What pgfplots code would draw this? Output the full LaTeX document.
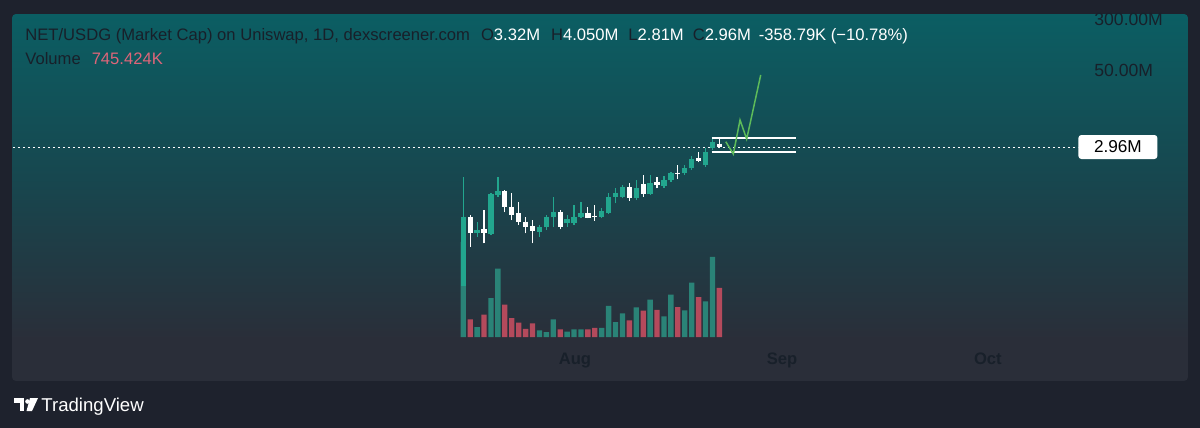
\documentclass[border=0pt]{standalone}
\usepackage{pgfplots}
\pgfplotsset{compat=1.18}
\usepackage{fontspec}
\setmainfont{Liberation Sans}
\definecolor{outerbg}{HTML}{1E222D}
\definecolor{paneltop}{HTML}{0B5E63}
\definecolor{panelmid}{HTML}{17474F}
\definecolor{panelbot}{HTML}{2A2E39}
\definecolor{candleup}{HTML}{22A68E}
\definecolor{volup}{HTML}{2A8377}
\definecolor{voldown}{HTML}{B44A5C}
\definecolor{labeltxt}{HTML}{18202A}
\definecolor{volval}{HTML}{DE6579}
\definecolor{drawgreen}{HTML}{5DBB5A}
\newcommand\fs[1]{\fontsize{#1}{#1}\selectfont}
\begin{document}
\begin{tikzpicture}
\begin{scope}[x=0.5pt,y=-0.5pt]
\fill[outerbg] (0,0) rectangle (1200,428);
\begin{scope}
\clip[rounded corners=2pt] (12,14) rectangle (1188,381);
\fill[panelbot] (12,14) rectangle (1188,381);
\shade[top color=paneltop, bottom color=panelbot, middle color=panelmid] (12,14) rectangle (1188,340);
\end{scope}
\end{scope}

% volume axis
\begin{axis}[at={(6.5pt,-168.5pt)}, anchor=south west, scale only axis,
  width=532.5pt, height=161pt, xmin=-65.07, xmax=88.83, ymin=0, ymax=4897.6,
  hide axis]
\addplot[ybar, bar width=0.77, bar shift=0pt, fill=volup, draw=none] coordinates {
(0,1445) (2,152) (4,593) (5,1039) (11,102) (12,76) (13,269) (15,81) (16,117) (17,117)
(20,137) (21,472) (22,228) (23,360) (25,452) (27,567) (29,315) (30,643) (32,406) (33,826)
(35,543) (36,1217)};
\addplot[ybar, bar width=0.77, bar shift=0pt, fill=voldown, draw=none] coordinates {
(1,269) (3,339) (6,491) (7,289) (8,218) (9,122) (10,208) (14,117) (18,117) (19,137)
(24,254) (26,400) (28,411) (31,456) (34,608) (37,745.424)};
\end{axis}

% price axis
\begin{axis}[at={(6.5pt,-7.5pt)}, anchor=north west, scale only axis,
  width=532.5pt, height=162.5pt, xmin=-65.07, xmax=88.83,
  ymode=log, ymin=0.003348, ymax=306.5,
  axis line style={draw=none}, tick style={draw=none},
  major tick length=0pt, minor tick length=0pt,
  ytick={50,300}, yticklabels={50.00M,300.00M}, yticklabel pos=right,
  yticklabel style={anchor=west, inner sep=0pt, xshift=8pt, yshift=-1.7pt, text=labeltxt, font=\fs{8.8}},
  xtick={16.14,46.06,75.8}, xticklabels={Aug,Sep,Oct},
  xticklabel style={anchor=base, inner sep=0pt, yshift=-12pt, text=labeltxt, font=\fs{8.3}\bfseries},
  clip=false, unbounded coords=jump]
% last price line
\addplot[white, line width=0.5pt, dash pattern=on 1pt off 1.5pt] coordinates {(-65.07,2.96) (88.83,2.96)};
% wicks
\addplot[candleup, line width=0.6pt] coordinates {
(0,0.02234) (0,1.042) (0,nan)
(2,0.1264) (2,0.2142) (2,nan)
(4,0.1342) (4,0.5937) (4,nan)
(5,0.5158) (5,1.020) (5,nan)
(11,0.1264) (11,0.1908) (11,nan)
(12,0.1600) (12,0.2711) (12,nan)
(13,0.1797) (13,0.5158) (13,nan)
(15,0.1797) (15,0.2711) (15,nan)
(16,0.1908) (16,0.3853) (16,nan)
(17,0.2414) (17,0.4327) (17,nan)
(20,0.2414) (20,0.3431) (20,nan)
(21,0.2808) (21,0.5812) (21,nan)
(22,0.4090) (22,0.6932) (22,nan)
(23,0.4876) (23,0.7784) (23,nan)
(25,0.4592) (25,0.9277) (25,nan)
(27,0.5477) (27,1.106) (27,nan)
(29,0.7006) (29,1.068) (29,nan)
(30,0.8649) (30,1.242) (30,nan)
(32,1.106) (32,1.572) (32,nan)
(33,1.319) (33,2.157) (33,nan)
(35,1.481) (35,2.828) (35,nan)
(36,2.664) (36,4.252)};
\addplot[white, line width=0.6pt] coordinates {
(1,0.0890) (1,0.2711) (1,nan)
(3,0.1003) (3,0.3232) (3,nan)
(6,0.2981) (6,0.6528) (6,nan)
(7,0.2274) (7,0.5937) (7,nan)
(8,0.1908) (8,0.4236) (8,nan)
(9,0.1425) (9,0.2554) (9,nan)
(10,0.1003) (10,0.2274) (10,nan)
(14,0.1640) (14,0.3232) (14,nan)
(18,0.2414) (18,0.3630) (18,nan)
(19,0.2219) (19,0.3853) (19,nan)
(24,0.4481) (24,0.8263) (24,nan)
(26,0.5158) (26,1.106) (26,nan)
(28,0.6932) (28,1.042) (28,nan)
(31,0.9508) (31,1.572) (31,nan)
(34,1.729) (34,2.509) (34,nan)
(37,2.81) (37,4.05)};
% bodies
\addplot[candleup, line width=2.65pt] coordinates {
(0,0.02234) (0,0.2554) (0,nan)
(2,0.1425) (2,0.1600) (2,nan)
(4,0.1390) (4,0.5673) (4,nan)
(5,0.5477) (5,0.6369) (5,nan)
(11,0.1507) (11,0.1760) (11,nan)
(12,0.1760) (12,0.2554) (12,nan)
(13,0.2554) (13,0.3044) (13,nan)
(15,0.2025) (15,0.2330) (15,nan)
(16,0.2025) (16,0.2554) (16,nan)
(17,0.2554) (17,0.2878) (17,nan)
(20,0.2554) (20,0.3154) (20,nan)
(21,0.2878) (21,0.5158) (21,nan)
(22,0.5158) (22,0.5812) (22,nan)
(23,0.5158) (23,0.7179) (23,nan)
(25,0.4876) (25,0.6932) (25,nan)
(27,0.5673) (27,0.8263) (27,nan)
(29,0.7514) (29,0.9277) (29,nan)
(30,0.9277) (30,1.199) (30,nan)
(32,1.175) (32,1.400) (32,nan)
(33,1.400) (33,1.921) (33,nan)
(35,1.572) (35,2.509) (35,nan)
(36,2.828) (36,3.50)};
\addplot[white, line width=2.65pt] coordinates {
(1,0.2554) (1,0.1425) (1,nan)
(3,0.1640) (3,0.1425) (3,nan)
(6,0.6369) (6,0.3630) (6,nan)
(7,0.3630) (7,0.2711) (7,nan)
(8,0.2878) (8,0.2142) (8,nan)
(9,0.2142) (9,0.1797) (9,nan)
(10,0.1842) (10,0.1545) (10,nan)
(14,0.3044) (14,0.1760) (14,nan)
(18,0.2878) (18,0.2465) (18,nan)
(19,0.2646) (19,0.2500) (19,nan)
(24,0.7179) (24,0.4876) (24,nan)
(26,0.8062) (26,0.5673) (26,nan)
(28,0.8740) (28,0.7784) (28,nan)
(31,1.199) (31,1.146) (31,nan)
(34,1.990) (34,1.829) (34,nan)
(37,3.32) (37,2.96)};
% range box
\addplot[white, line width=1pt] coordinates {(35.9,4.105) (48.03,4.105) (48.03,nan) (35.9,2.483) (48.03,2.483)};
% projection
\addplot[drawgreen, line width=0.75pt] coordinates {(37.93,3.566) (39.02,2.314) (39.99,7.647) (40.95,3.921) (42.98,37.21)};
\node[fill=white, rounded corners=1.5pt, anchor=west, minimum height=12pt, minimum width=39.5pt, inner sep=0pt, text=black, font=\fs{8.6}] at (axis cs:88.83,2.96) {2.96M};
\end{axis}

\begin{scope}[x=0.5pt,y=-0.5pt]
% header texts
\node[anchor=base west, inner sep=0pt, font=\fs{8.3}] at (25,40) {%
{\color{labeltxt}NET/USDG (Market Cap) on Uniswap, 1D, dexscreener.com}\hspace{5.5pt}%
{\color{labeltxt}O}{\color{white}3.32M}\hspace{5.5pt}%
{\color{labeltxt}H}{\color{white}4.050M}\hspace{5pt}%
{\color{labeltxt}L}{\color{white}2.81M}\hspace{4.5pt}%
{\color{labeltxt}C}{\color{white}2.96M}\hspace{4pt}%
{\color{white}-358.79K (−10.78\%)}};
\node[anchor=base west, inner sep=0pt, font=\fs{8.3}] at (25,64) {%
{\color{labeltxt}Volume}\hspace{5.5pt}{\color{volval}745.424K}};

% TradingView logo
\fill[white] (14,398) rectangle (24,402.5);
\fill[white] (19.5,398) rectangle (24,411);
\fill[white] (27.5,401.5) circle (2.3);
\fill[white] (30,398) -- (38,398) -- (32,411) -- (26.5,411) -- cycle;
\node[anchor=base west, inner sep=0pt, font=\fs{9.3}, text=white] at (41,411) {TradingView};
\end{scope}

\pgfresetboundingbox
\useasboundingbox (0,0) rectangle (600pt,-214pt);
\end{tikzpicture}
\end{document}
